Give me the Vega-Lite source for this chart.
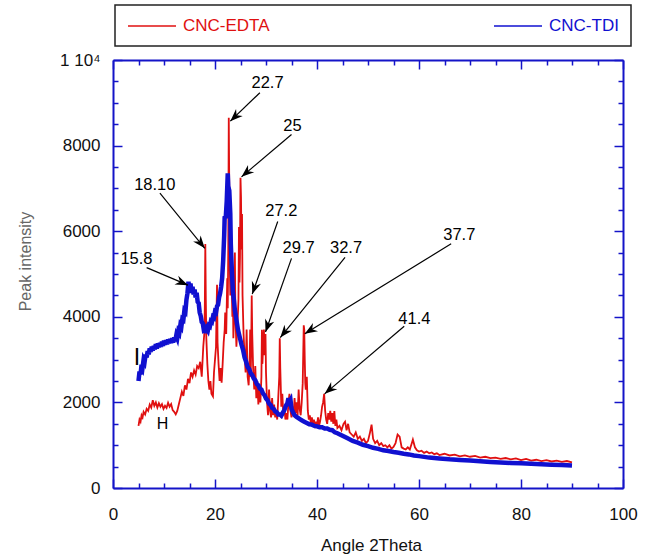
{
  "$schema": "https://vega.github.io/schema/vega-lite/v6.json",
  "width": 510,
  "height": 428,
  "autosize": {"type": "none"},
  "padding": {"left": 113, "top": 60, "right": 26, "bottom": 68},
  "background": "white",
  "config": {
    "font": "Liberation Sans",
    "view": {"stroke": null},
    "axis": {"grid": false, "domainColor": "#1414c8", "domainWidth": 2, "tickColor": "#1414c8", "tickWidth": 1.5, "labelFont": "Liberation Sans", "labelFontSize": 17, "labelColor": "#111", "titleFont": "Liberation Sans", "titleFontWeight": "normal"},
    "legend": {"strokeWidth": 1.5}
  },
  "datasets": {
    "edta": [
      {"series":"CNC-EDTA","x":5.0,"y":1450},{"series":"CNC-EDTA","x":5.2,"y":1600},{"series":"CNC-EDTA","x":5.4,"y":1550},{"series":"CNC-EDTA","x":5.6,"y":1700},{"series":"CNC-EDTA","x":5.8,"y":1650},{"series":"CNC-EDTA","x":6.0,"y":1780},{"series":"CNC-EDTA","x":6.3,"y":1720},{"series":"CNC-EDTA","x":6.6,"y":1850},{"series":"CNC-EDTA","x":6.9,"y":1800},{"series":"CNC-EDTA","x":7.2,"y":1950},{"series":"CNC-EDTA","x":7.5,"y":1880},{"series":"CNC-EDTA","x":7.8,"y":2050},{"series":"CNC-EDTA","x":8.1,"y":1920},{"series":"CNC-EDTA","x":8.4,"y":2000},{"series":"CNC-EDTA","x":8.7,"y":1880},{"series":"CNC-EDTA","x":9.0,"y":1980},{"series":"CNC-EDTA","x":9.3,"y":1900},{"series":"CNC-EDTA","x":9.6,"y":1960},{"series":"CNC-EDTA","x":9.9,"y":1850},{"series":"CNC-EDTA","x":10.2,"y":1920},{"series":"CNC-EDTA","x":10.5,"y":1870},{"series":"CNC-EDTA","x":10.8,"y":1990},{"series":"CNC-EDTA","x":11.1,"y":1900},{"series":"CNC-EDTA","x":11.4,"y":1960},{"series":"CNC-EDTA","x":11.7,"y":1820},{"series":"CNC-EDTA","x":12.0,"y":1780},{"series":"CNC-EDTA","x":12.3,"y":1720},{"series":"CNC-EDTA","x":12.6,"y":1800},{"series":"CNC-EDTA","x":12.9,"y":1950},{"series":"CNC-EDTA","x":13.2,"y":2100},{"series":"CNC-EDTA","x":13.5,"y":2250},{"series":"CNC-EDTA","x":13.8,"y":2150},{"series":"CNC-EDTA","x":14.1,"y":2400},{"series":"CNC-EDTA","x":14.4,"y":2300},{"series":"CNC-EDTA","x":14.7,"y":2550},{"series":"CNC-EDTA","x":15.0,"y":2450},{"series":"CNC-EDTA","x":15.3,"y":2700},{"series":"CNC-EDTA","x":15.6,"y":2600},{"series":"CNC-EDTA","x":15.9,"y":2750},{"series":"CNC-EDTA","x":16.2,"y":2650},{"series":"CNC-EDTA","x":16.5,"y":2850},{"series":"CNC-EDTA","x":16.8,"y":2800},{"series":"CNC-EDTA","x":17.1,"y":2950},{"series":"CNC-EDTA","x":17.4,"y":2600},{"series":"CNC-EDTA","x":17.7,"y":3300},{"series":"CNC-EDTA","x":17.9,"y":3600},{"series":"CNC-EDTA","x":18.0,"y":4200},{"series":"CNC-EDTA","x":18.1,"y":5700},{"series":"CNC-EDTA","x":18.2,"y":4400},{"series":"CNC-EDTA","x":18.3,"y":3500},{"series":"CNC-EDTA","x":18.5,"y":2900},{"series":"CNC-EDTA","x":18.7,"y":2500},{"series":"CNC-EDTA","x":18.9,"y":2300},{"series":"CNC-EDTA","x":19.1,"y":2500},{"series":"CNC-EDTA","x":19.3,"y":2200},{"series":"CNC-EDTA","x":19.6,"y":2140},{"series":"CNC-EDTA","x":19.8,"y":2700},{"series":"CNC-EDTA","x":20.0,"y":3000},{"series":"CNC-EDTA","x":20.2,"y":3300},{"series":"CNC-EDTA","x":20.3,"y":4100},{"series":"CNC-EDTA","x":20.4,"y":4750},{"series":"CNC-EDTA","x":20.5,"y":3400},{"series":"CNC-EDTA","x":20.7,"y":2900},{"series":"CNC-EDTA","x":20.9,"y":2500},{"series":"CNC-EDTA","x":21.1,"y":2800},{"series":"CNC-EDTA","x":21.3,"y":2460},{"series":"CNC-EDTA","x":21.5,"y":2900},{"series":"CNC-EDTA","x":21.7,"y":3400},{"series":"CNC-EDTA","x":21.9,"y":3700},{"series":"CNC-EDTA","x":22.0,"y":4100},{"series":"CNC-EDTA","x":22.2,"y":3600},{"series":"CNC-EDTA","x":22.4,"y":4900},{"series":"CNC-EDTA","x":22.5,"y":4200},{"series":"CNC-EDTA","x":22.6,"y":5600},{"series":"CNC-EDTA","x":22.7,"y":8650},{"series":"CNC-EDTA","x":22.8,"y":7000},{"series":"CNC-EDTA","x":22.9,"y":5200},{"series":"CNC-EDTA","x":23.0,"y":4500},{"series":"CNC-EDTA","x":23.2,"y":5200},{"series":"CNC-EDTA","x":23.4,"y":4000},{"series":"CNC-EDTA","x":23.5,"y":4630},{"series":"CNC-EDTA","x":23.6,"y":3500},{"series":"CNC-EDTA","x":23.8,"y":4200},{"series":"CNC-EDTA","x":23.9,"y":5500},{"series":"CNC-EDTA","x":24.0,"y":4000},{"series":"CNC-EDTA","x":24.2,"y":3300},{"series":"CNC-EDTA","x":24.4,"y":3800},{"series":"CNC-EDTA","x":24.6,"y":4400},{"series":"CNC-EDTA","x":24.7,"y":6100},{"series":"CNC-EDTA","x":24.8,"y":4800},{"series":"CNC-EDTA","x":24.9,"y":5400},{"series":"CNC-EDTA","x":25.0,"y":7250},{"series":"CNC-EDTA","x":25.1,"y":6800},{"series":"CNC-EDTA","x":25.2,"y":5570},{"series":"CNC-EDTA","x":25.3,"y":6400},{"series":"CNC-EDTA","x":25.4,"y":4500},{"series":"CNC-EDTA","x":25.6,"y":3600},{"series":"CNC-EDTA","x":25.8,"y":3100},{"series":"CNC-EDTA","x":26.0,"y":2700},{"series":"CNC-EDTA","x":26.2,"y":3700},{"series":"CNC-EDTA","x":26.4,"y":2600},{"series":"CNC-EDTA","x":26.6,"y":2400},{"series":"CNC-EDTA","x":26.8,"y":3000},{"series":"CNC-EDTA","x":26.9,"y":3700},{"series":"CNC-EDTA","x":27.0,"y":2600},{"series":"CNC-EDTA","x":27.1,"y":3300},{"series":"CNC-EDTA","x":27.2,"y":4500},{"series":"CNC-EDTA","x":27.3,"y":3600},{"series":"CNC-EDTA","x":27.5,"y":2700},{"series":"CNC-EDTA","x":27.7,"y":2300},{"series":"CNC-EDTA","x":27.9,"y":2850},{"series":"CNC-EDTA","x":28.1,"y":2100},{"series":"CNC-EDTA","x":28.3,"y":2500},{"series":"CNC-EDTA","x":28.5,"y":1950},{"series":"CNC-EDTA","x":28.7,"y":2300},{"series":"CNC-EDTA","x":28.9,"y":2000},{"series":"CNC-EDTA","x":29.1,"y":2600},{"series":"CNC-EDTA","x":29.2,"y":3700},{"series":"CNC-EDTA","x":29.3,"y":2900},{"series":"CNC-EDTA","x":29.5,"y":3500},{"series":"CNC-EDTA","x":29.6,"y":3700},{"series":"CNC-EDTA","x":29.7,"y":3100},{"series":"CNC-EDTA","x":29.9,"y":3600},{"series":"CNC-EDTA","x":30.0,"y":2700},{"series":"CNC-EDTA","x":30.2,"y":2000},{"series":"CNC-EDTA","x":30.4,"y":1700},{"series":"CNC-EDTA","x":30.6,"y":2300},{"series":"CNC-EDTA","x":30.8,"y":1800},{"series":"CNC-EDTA","x":31.0,"y":1650},{"series":"CNC-EDTA","x":31.2,"y":2100},{"series":"CNC-EDTA","x":31.4,"y":1700},{"series":"CNC-EDTA","x":31.6,"y":1950},{"series":"CNC-EDTA","x":31.8,"y":1650},{"series":"CNC-EDTA","x":32.0,"y":1800},{"series":"CNC-EDTA","x":32.2,"y":1600},{"series":"CNC-EDTA","x":32.4,"y":2100},{"series":"CNC-EDTA","x":32.6,"y":2600},{"series":"CNC-EDTA","x":32.7,"y":3500},{"series":"CNC-EDTA","x":32.8,"y":2800},{"series":"CNC-EDTA","x":33.0,"y":1900},{"series":"CNC-EDTA","x":33.2,"y":2200},{"series":"CNC-EDTA","x":33.4,"y":1700},{"series":"CNC-EDTA","x":33.6,"y":1900},{"series":"CNC-EDTA","x":33.8,"y":1600},{"series":"CNC-EDTA","x":34.0,"y":1750},{"series":"CNC-EDTA","x":34.2,"y":1600},{"series":"CNC-EDTA","x":34.4,"y":2000},{"series":"CNC-EDTA","x":34.6,"y":2200},{"series":"CNC-EDTA","x":34.8,"y":1800},{"series":"CNC-EDTA","x":35.0,"y":1650},{"series":"CNC-EDTA","x":35.2,"y":1900},{"series":"CNC-EDTA","x":35.4,"y":1700},{"series":"CNC-EDTA","x":35.6,"y":2100},{"series":"CNC-EDTA","x":35.8,"y":1750},{"series":"CNC-EDTA","x":36.0,"y":2000},{"series":"CNC-EDTA","x":36.2,"y":1700},{"series":"CNC-EDTA","x":36.4,"y":2300},{"series":"CNC-EDTA","x":36.6,"y":1850},{"series":"CNC-EDTA","x":36.8,"y":1700},{"series":"CNC-EDTA","x":37.0,"y":2000},{"series":"CNC-EDTA","x":37.2,"y":2450},{"series":"CNC-EDTA","x":37.4,"y":3800},{"series":"CNC-EDTA","x":37.5,"y":3700},{"series":"CNC-EDTA","x":37.6,"y":3000},{"series":"CNC-EDTA","x":37.7,"y":2450},{"series":"CNC-EDTA","x":37.8,"y":2300},{"series":"CNC-EDTA","x":38.0,"y":2600},{"series":"CNC-EDTA","x":38.2,"y":1800},{"series":"CNC-EDTA","x":38.4,"y":1600},{"series":"CNC-EDTA","x":38.6,"y":1700},{"series":"CNC-EDTA","x":38.8,"y":1500},{"series":"CNC-EDTA","x":39.0,"y":1650},{"series":"CNC-EDTA","x":39.2,"y":1450},{"series":"CNC-EDTA","x":39.4,"y":1600},{"series":"CNC-EDTA","x":39.6,"y":1400},{"series":"CNC-EDTA","x":39.8,"y":1550},{"series":"CNC-EDTA","x":40.0,"y":1450},{"series":"CNC-EDTA","x":40.2,"y":1650},{"series":"CNC-EDTA","x":40.4,"y":1450},{"series":"CNC-EDTA","x":40.6,"y":1550},{"series":"CNC-EDTA","x":40.8,"y":1700},{"series":"CNC-EDTA","x":41.0,"y":1900},{"series":"CNC-EDTA","x":41.2,"y":2000},{"series":"CNC-EDTA","x":41.4,"y":2200},{"series":"CNC-EDTA","x":41.6,"y":1800},{"series":"CNC-EDTA","x":41.8,"y":1600},{"series":"CNC-EDTA","x":42.0,"y":1500},{"series":"CNC-EDTA","x":42.2,"y":1750},{"series":"CNC-EDTA","x":42.4,"y":1600},{"series":"CNC-EDTA","x":42.6,"y":1800},{"series":"CNC-EDTA","x":42.8,"y":1550},{"series":"CNC-EDTA","x":43.0,"y":1750},{"series":"CNC-EDTA","x":43.2,"y":1500},{"series":"CNC-EDTA","x":43.4,"y":1800},{"series":"CNC-EDTA","x":43.6,"y":1450},{"series":"CNC-EDTA","x":43.8,"y":1600},{"series":"CNC-EDTA","x":44.0,"y":1400},{"series":"CNC-EDTA","x":44.4,"y":1450},{"series":"CNC-EDTA","x":44.8,"y":1350},{"series":"CNC-EDTA","x":45.2,"y":1500},{"series":"CNC-EDTA","x":45.5,"y":1550},{"series":"CNC-EDTA","x":45.8,"y":1350},{"series":"CNC-EDTA","x":46.1,"y":1500},{"series":"CNC-EDTA","x":46.4,"y":1300},{"series":"CNC-EDTA","x":46.8,"y":1250},{"series":"CNC-EDTA","x":47.2,"y":1200},{"series":"CNC-EDTA","x":47.6,"y":1300},{"series":"CNC-EDTA","x":48.0,"y":1150},{"series":"CNC-EDTA","x":48.4,"y":1200},{"series":"CNC-EDTA","x":48.8,"y":1100},{"series":"CNC-EDTA","x":49.2,"y":1150},{"series":"CNC-EDTA","x":49.6,"y":1050},{"series":"CNC-EDTA","x":50.0,"y":1100},{"series":"CNC-EDTA","x":50.4,"y":1300},{"series":"CNC-EDTA","x":50.7,"y":1480},{"series":"CNC-EDTA","x":51.0,"y":1150},{"series":"CNC-EDTA","x":51.4,"y":1050},{"series":"CNC-EDTA","x":51.8,"y":1100},{"series":"CNC-EDTA","x":52.2,"y":1000},{"series":"CNC-EDTA","x":52.6,"y":1050},{"series":"CNC-EDTA","x":53.0,"y":980},{"series":"CNC-EDTA","x":53.4,"y":1000},{"series":"CNC-EDTA","x":53.8,"y":950},{"series":"CNC-EDTA","x":54.2,"y":1000},{"series":"CNC-EDTA","x":54.6,"y":920},{"series":"CNC-EDTA","x":55.0,"y":960},{"series":"CNC-EDTA","x":55.4,"y":1050},{"series":"CNC-EDTA","x":55.8,"y":1250},{"series":"CNC-EDTA","x":56.2,"y":1200},{"series":"CNC-EDTA","x":56.6,"y":950},{"series":"CNC-EDTA","x":57.0,"y":920},{"series":"CNC-EDTA","x":57.4,"y":900},{"series":"CNC-EDTA","x":57.8,"y":950},{"series":"CNC-EDTA","x":58.2,"y":900},{"series":"CNC-EDTA","x":58.6,"y":1050},{"series":"CNC-EDTA","x":58.8,"y":1130},{"series":"CNC-EDTA","x":59.2,"y":950},{"series":"CNC-EDTA","x":59.6,"y":880},{"series":"CNC-EDTA","x":60.0,"y":850},{"series":"CNC-EDTA","x":60.5,"y":870},{"series":"CNC-EDTA","x":61.0,"y":820},{"series":"CNC-EDTA","x":61.5,"y":850},{"series":"CNC-EDTA","x":62.0,"y":810},{"series":"CNC-EDTA","x":62.5,"y":830},{"series":"CNC-EDTA","x":63.0,"y":790},{"series":"CNC-EDTA","x":63.5,"y":810},{"series":"CNC-EDTA","x":64.0,"y":770},{"series":"CNC-EDTA","x":65,"y":800},{"series":"CNC-EDTA","x":66,"y":760},{"series":"CNC-EDTA","x":67,"y":780},{"series":"CNC-EDTA","x":68,"y":740},{"series":"CNC-EDTA","x":69,"y":760},{"series":"CNC-EDTA","x":70,"y":730},{"series":"CNC-EDTA","x":71,"y":750},{"series":"CNC-EDTA","x":72,"y":710},{"series":"CNC-EDTA","x":73,"y":730},{"series":"CNC-EDTA","x":74,"y":700},{"series":"CNC-EDTA","x":75,"y":710},{"series":"CNC-EDTA","x":76,"y":680},{"series":"CNC-EDTA","x":77,"y":700},{"series":"CNC-EDTA","x":78,"y":670},{"series":"CNC-EDTA","x":79,"y":690},{"series":"CNC-EDTA","x":80,"y":650},{"series":"CNC-EDTA","x":81,"y":680},{"series":"CNC-EDTA","x":82,"y":640},{"series":"CNC-EDTA","x":83,"y":660},{"series":"CNC-EDTA","x":84,"y":630},{"series":"CNC-EDTA","x":85,"y":650},{"series":"CNC-EDTA","x":86,"y":620},{"series":"CNC-EDTA","x":87,"y":640},{"series":"CNC-EDTA","x":88,"y":610},{"series":"CNC-EDTA","x":89,"y":630},{"series":"CNC-EDTA","x":90,"y":600}
    ],
    "tdi": [
      {"series":"CNC-TDI","x":5.0,"y":2500},{"series":"CNC-TDI","x":5.2,"y":2720},{"series":"CNC-TDI","x":5.4,"y":2650},{"series":"CNC-TDI","x":5.6,"y":2880},{"series":"CNC-TDI","x":5.8,"y":2820},{"series":"CNC-TDI","x":6.0,"y":3000},{"series":"CNC-TDI","x":6.2,"y":2950},{"series":"CNC-TDI","x":6.4,"y":3120},{"series":"CNC-TDI","x":6.6,"y":3050},{"series":"CNC-TDI","x":6.8,"y":3200},{"series":"CNC-TDI","x":7.0,"y":3120},{"series":"CNC-TDI","x":7.2,"y":3260},{"series":"CNC-TDI","x":7.4,"y":3180},{"series":"CNC-TDI","x":7.6,"y":3300},{"series":"CNC-TDI","x":7.8,"y":3210},{"series":"CNC-TDI","x":8.0,"y":3320},{"series":"CNC-TDI","x":8.2,"y":3240},{"series":"CNC-TDI","x":8.4,"y":3360},{"series":"CNC-TDI","x":8.6,"y":3260},{"series":"CNC-TDI","x":8.8,"y":3380},{"series":"CNC-TDI","x":9.0,"y":3290},{"series":"CNC-TDI","x":9.2,"y":3390},{"series":"CNC-TDI","x":9.4,"y":3300},{"series":"CNC-TDI","x":9.6,"y":3420},{"series":"CNC-TDI","x":9.8,"y":3320},{"series":"CNC-TDI","x":10.0,"y":3440},{"series":"CNC-TDI","x":10.2,"y":3350},{"series":"CNC-TDI","x":10.4,"y":3450},{"series":"CNC-TDI","x":10.6,"y":3360},{"series":"CNC-TDI","x":10.8,"y":3470},{"series":"CNC-TDI","x":11.0,"y":3380},{"series":"CNC-TDI","x":11.2,"y":3480},{"series":"CNC-TDI","x":11.4,"y":3390},{"series":"CNC-TDI","x":11.6,"y":3500},{"series":"CNC-TDI","x":11.8,"y":3400},{"series":"CNC-TDI","x":12.0,"y":3520},{"series":"CNC-TDI","x":12.2,"y":3430},{"series":"CNC-TDI","x":12.4,"y":3560},{"series":"CNC-TDI","x":12.6,"y":3500},{"series":"CNC-TDI","x":12.8,"y":3660},{"series":"CNC-TDI","x":13.0,"y":3620},{"series":"CNC-TDI","x":13.2,"y":3800},{"series":"CNC-TDI","x":13.4,"y":3760},{"series":"CNC-TDI","x":13.6,"y":3950},{"series":"CNC-TDI","x":13.8,"y":3930},{"series":"CNC-TDI","x":14.0,"y":4150},{"series":"CNC-TDI","x":14.2,"y":4120},{"series":"CNC-TDI","x":14.4,"y":4400},{"series":"CNC-TDI","x":14.6,"y":4550},{"series":"CNC-TDI","x":14.8,"y":4820},{"series":"CNC-TDI","x":15.0,"y":4620},{"series":"CNC-TDI","x":15.2,"y":4780},{"series":"CNC-TDI","x":15.4,"y":4560},{"series":"CNC-TDI","x":15.6,"y":4700},{"series":"CNC-TDI","x":15.8,"y":4520},{"series":"CNC-TDI","x":16.0,"y":4640},{"series":"CNC-TDI","x":16.2,"y":4450},{"series":"CNC-TDI","x":16.4,"y":4560},{"series":"CNC-TDI","x":16.6,"y":4350},{"series":"CNC-TDI","x":16.8,"y":4320},{"series":"CNC-TDI","x":17.0,"y":4100},{"series":"CNC-TDI","x":17.2,"y":4020},{"series":"CNC-TDI","x":17.4,"y":3880},{"series":"CNC-TDI","x":17.6,"y":3850},{"series":"CNC-TDI","x":17.8,"y":3700},{"series":"CNC-TDI","x":18.0,"y":3720},{"series":"CNC-TDI","x":18.2,"y":3620},{"series":"CNC-TDI","x":18.4,"y":3720},{"series":"CNC-TDI","x":18.6,"y":3680},{"series":"CNC-TDI","x":18.8,"y":3800},{"series":"CNC-TDI","x":19.0,"y":3780},{"series":"CNC-TDI","x":19.2,"y":3900},{"series":"CNC-TDI","x":19.4,"y":3880},{"series":"CNC-TDI","x":19.6,"y":4000},{"series":"CNC-TDI","x":19.8,"y":3980},{"series":"CNC-TDI","x":20.0,"y":4120},{"series":"CNC-TDI","x":20.2,"y":4100},{"series":"CNC-TDI","x":20.4,"y":4250},{"series":"CNC-TDI","x":20.6,"y":4280},{"series":"CNC-TDI","x":20.8,"y":4450},{"series":"CNC-TDI","x":21.0,"y":4550},{"series":"CNC-TDI","x":21.2,"y":4700},{"series":"CNC-TDI","x":21.4,"y":4900},{"series":"CNC-TDI","x":21.6,"y":5300},{"series":"CNC-TDI","x":21.8,"y":5900},{"series":"CNC-TDI","x":21.9,"y":6350},{"series":"CNC-TDI","x":22.1,"y":6300},{"series":"CNC-TDI","x":22.3,"y":6700},{"series":"CNC-TDI","x":22.5,"y":7350},{"series":"CNC-TDI","x":22.6,"y":7050},{"series":"CNC-TDI","x":22.8,"y":6950},{"series":"CNC-TDI","x":23.0,"y":6400},{"series":"CNC-TDI","x":23.1,"y":5700},{"series":"CNC-TDI","x":23.3,"y":5100},{"series":"CNC-TDI","x":23.5,"y":4600},{"series":"CNC-TDI","x":23.7,"y":4400},{"series":"CNC-TDI","x":23.9,"y":4150},{"series":"CNC-TDI","x":24.1,"y":4000},{"series":"CNC-TDI","x":24.3,"y":3850},{"series":"CNC-TDI","x":24.5,"y":3700},{"series":"CNC-TDI","x":24.7,"y":3600},{"series":"CNC-TDI","x":24.9,"y":3500},{"series":"CNC-TDI","x":25.2,"y":3350},{"series":"CNC-TDI","x":25.5,"y":3230},{"series":"CNC-TDI","x":25.8,"y":3050},{"series":"CNC-TDI","x":26.1,"y":2950},{"series":"CNC-TDI","x":26.4,"y":2830},{"series":"CNC-TDI","x":26.7,"y":2780},{"series":"CNC-TDI","x":27.0,"y":2680},{"series":"CNC-TDI","x":27.3,"y":2640},{"series":"CNC-TDI","x":27.6,"y":2560},{"series":"CNC-TDI","x":27.9,"y":2520},{"series":"CNC-TDI","x":28.2,"y":2430},{"series":"CNC-TDI","x":28.5,"y":2400},{"series":"CNC-TDI","x":28.8,"y":2320},{"series":"CNC-TDI","x":29.1,"y":2300},{"series":"CNC-TDI","x":29.4,"y":2210},{"series":"CNC-TDI","x":29.7,"y":2170},{"series":"CNC-TDI","x":30.0,"y":2090},{"series":"CNC-TDI","x":30.3,"y":2050},{"series":"CNC-TDI","x":30.6,"y":1970},{"series":"CNC-TDI","x":30.9,"y":1940},{"series":"CNC-TDI","x":31.2,"y":1870},{"series":"CNC-TDI","x":31.5,"y":1850},{"series":"CNC-TDI","x":31.8,"y":1790},{"series":"CNC-TDI","x":32.1,"y":1770},{"series":"CNC-TDI","x":32.4,"y":1720},{"series":"CNC-TDI","x":32.7,"y":1720},{"series":"CNC-TDI","x":33.0,"y":1690},{"series":"CNC-TDI","x":33.3,"y":1760},{"series":"CNC-TDI","x":33.6,"y":1820},{"series":"CNC-TDI","x":33.9,"y":1920},{"series":"CNC-TDI","x":34.2,"y":1980},{"series":"CNC-TDI","x":34.4,"y":2100},{"series":"CNC-TDI","x":34.6,"y":2020},{"series":"CNC-TDI","x":34.8,"y":2060},{"series":"CNC-TDI","x":35.0,"y":1850},{"series":"CNC-TDI","x":35.3,"y":1770},{"series":"CNC-TDI","x":35.6,"y":1700},{"series":"CNC-TDI","x":36.0,"y":1660},{"series":"CNC-TDI","x":36.5,"y":1620},{"series":"CNC-TDI","x":37.0,"y":1580},{"series":"CNC-TDI","x":37.5,"y":1550},{"series":"CNC-TDI","x":38.0,"y":1520},{"series":"CNC-TDI","x":38.5,"y":1490},{"series":"CNC-TDI","x":39.0,"y":1480},{"series":"CNC-TDI","x":39.5,"y":1450},{"series":"CNC-TDI","x":40.0,"y":1440},{"series":"CNC-TDI","x":40.5,"y":1420},{"series":"CNC-TDI","x":41.0,"y":1420},{"series":"CNC-TDI","x":41.5,"y":1390},{"series":"CNC-TDI","x":42.0,"y":1390},{"series":"CNC-TDI","x":42.5,"y":1360},{"series":"CNC-TDI","x":43.0,"y":1350},{"series":"CNC-TDI","x":43.5,"y":1300},{"series":"CNC-TDI","x":44.0,"y":1280},{"series":"CNC-TDI","x":45.0,"y":1220},{"series":"CNC-TDI","x":46.0,"y":1160},{"series":"CNC-TDI","x":47.0,"y":1100},{"series":"CNC-TDI","x":48.0,"y":1060},{"series":"CNC-TDI","x":49.0,"y":1010},{"series":"CNC-TDI","x":50.0,"y":980},{"series":"CNC-TDI","x":51.0,"y":940},{"series":"CNC-TDI","x":52.0,"y":915},{"series":"CNC-TDI","x":53.0,"y":880},{"series":"CNC-TDI","x":54.0,"y":865},{"series":"CNC-TDI","x":55.0,"y":840},{"series":"CNC-TDI","x":56.0,"y":825},{"series":"CNC-TDI","x":57.0,"y":800},{"series":"CNC-TDI","x":58.0,"y":785},{"series":"CNC-TDI","x":59.0,"y":760},{"series":"CNC-TDI","x":60.0,"y":745},{"series":"CNC-TDI","x":62.0,"y":710},{"series":"CNC-TDI","x":64.0,"y":692},{"series":"CNC-TDI","x":66.0,"y":670},{"series":"CNC-TDI","x":68.0,"y":657},{"series":"CNC-TDI","x":70.0,"y":640},{"series":"CNC-TDI","x":72.0,"y":627},{"series":"CNC-TDI","x":74.0,"y":610},{"series":"CNC-TDI","x":76.0,"y":597},{"series":"CNC-TDI","x":78.0,"y":585},{"series":"CNC-TDI","x":80.0,"y":577},{"series":"CNC-TDI","x":82.0,"y":565},{"series":"CNC-TDI","x":84.0,"y":557},{"series":"CNC-TDI","x":86.0,"y":545},{"series":"CNC-TDI","x":88.0,"y":537},{"series":"CNC-TDI","x":90.0,"y":525}
    ],
    "arrows": [
      {"label":"22.7","tx":30.3,"ty":9470,"x1":28.8,"y1":9236,"x2":23.0,"y2":8571},
      {"label":"25","tx":35.2,"ty":8454,"x1":35.0,"y1":8260,"x2":25.2,"y2":7270},
      {"label":"18.10","tx":8.2,"ty":7070,"x1":9.2,"y1":6890,"x2":18.0,"y2":5600},
      {"label":"15.8","tx":4.6,"ty":5350,"x1":6.6,"y1":5150,"x2":14.7,"y2":4740},
      {"label":"27.2","tx":33.0,"ty":6475,"x1":32.3,"y1":6225,"x2":27.3,"y2":4530},
      {"label":"29.7","tx":36.4,"ty":5600,"x1":35.0,"y1":5365,"x2":29.9,"y2":3645},
      {"label":"32.7","tx":45.7,"ty":5600,"x1":45.5,"y1":5390,"x2":32.8,"y2":3515},
      {"label":"37.7","tx":67.9,"ty":5915,"x1":66.3,"y1":5705,"x2":37.6,"y2":3605},
      {"label":"41.4","tx":59.1,"ty":3960,"x1":57.1,"y1":3780,"x2":41.5,"y2":2200}
    ],
    "marks": [
      {"label":"I","tx":4.7,"ty":3030},
      {"label":"H","tx":9.7,"ty":1500}
    ]
  },
  "layer": [
    {
      "data": {"name": "edta"},
      "mark": {"type": "line", "strokeWidth": 1.8, "interpolate": "linear"},
      "encoding": {
        "x": {"field": "x", "type": "quantitative", "scale": {"domain": [0, 100], "nice": false},
          "axis": {"orient": "bottom", "title": "Angle 2Theta", "values": [0,5,10,15,20,25,30,35,40,45,50,55,60,65,70,75,80,85,90,95,100],
            "labelExpr": "datum.value % 20 === 0 ? datum.label : ''", "labelOverlap": false, "labelFlush": false, "labelPadding": 27,
            "tickSize": {"condition": {"test": "datum.value % 20 === 0", "value": -9}, "value": -5},
            "titleFontSize": 17, "titleColor": "#111", "titleX": 258, "titleY": 57, "titleBaseline": "middle"}},
        "y": {"field": "y", "type": "quantitative", "scale": {"domain": [0, 10000], "nice": false},
          "axis": {"orient": "left", "title": "Peak intensity", "values": [0,500,1000,1500,2000,2500,3000,3500,4000,4500,5000,5500,6000,6500,7000,7500,8000,8500,9000,9500,10000],
            "labelExpr": "datum.value === 10000 ? '1 10⁴' : (datum.value % 2000 === 0 ? format(datum.value, 'd') : '')", "labelOverlap": false, "labelFlush": false, "labelPadding": 22,
            "tickSize": {"condition": {"test": "datum.value % 2000 === 0", "value": -9}, "value": -5},
            "titleFontSize": 16, "titleColor": "#666", "titleX": -88, "titleY": 201, "titleAlign": "center", "titleBaseline": "middle", "titleAngle": -90}},
        "color": {"field": "series", "type": "nominal",
          "scale": {"domain": ["CNC-EDTA", "CNC-TDI"], "range": ["#e01010", "#1010d0"]},
          "legend": {"title": null, "orient": "none", "legendX": 2, "legendY": -55, "direction": "horizontal", "columns": 2,
            "strokeColor": "#222", "fillColor": "white", "padding": 12, "columnPadding": 221,
            "symbolType": "M-1,0H5", "symbolSize": 256, "symbolStrokeWidth": 1.5, "labelOffset": 38,
            "labelFont": "Liberation Sans", "labelFontSize": 17,
            "labelColor": {"expr": "datum.label === 'CNC-EDTA' ? '#e01010' : '#1010d0'"}}}
      }
    },
    {
      "data": {"name": "tdi"},
      "mark": {"type": "line", "interpolate": "linear"},
      "encoding": {
        "x": {"field": "x", "type": "quantitative",
          "axis": {"orient": "top", "title": null, "labels": false, "values": [0,5,10,15,20,25,30,35,40,45,50,55,60,65,70,75,80,85,90,95,100],
            "tickSize": {"condition": {"test": "datum.value % 20 === 0", "value": -9}, "value": -5}}},
        "y": {"field": "y", "type": "quantitative",
          "axis": {"orient": "right", "title": null, "labels": false, "values": [0,500,1000,1500,2000,2500,3000,3500,4000,4500,5000,5500,6000,6500,7000,7500,8000,8500,9000,9500,10000],
            "tickSize": {"condition": {"test": "datum.value % 2000 === 0", "value": -9}, "value": -5}}},
        "color": {"field": "series", "type": "nominal"},
        "strokeWidth": {"value": 4.5}
      }
    },
    {
      "data": {"name": "arrows"},
      "mark": {"type": "rule", "color": "black", "strokeWidth": 1.2},
      "encoding": {
        "x": {"field": "x1", "type": "quantitative", "axis": null},
        "y": {"field": "y1", "type": "quantitative", "axis": null},
        "x2": {"field": "x2"},
        "y2": {"field": "y2"}
      }
    },
    {
      "data": {"name": "arrows"},
      "transform": [{"calculate": "atan2((datum.x2 - datum.x1) * 5.1, (datum.y2 - datum.y1) * 0.0428) * 180 / PI", "as": "ang"}],
      "mark": {"type": "point", "shape": "M0,0L-0.8,2.1L0,1.45L0.8,2.1Z", "filled": true, "color": "black", "size": 144, "opacity": 1},
      "encoding": {
        "x": {"field": "x2", "type": "quantitative", "axis": null},
        "y": {"field": "y2", "type": "quantitative", "axis": null},
        "angle": {"field": "ang", "type": "quantitative", "scale": null}
      }
    },
    {
      "data": {"name": "arrows"},
      "mark": {"type": "text", "fontSize": 16.5, "color": "black", "align": "center", "baseline": "middle", "font": "Liberation Sans"},
      "encoding": {
        "x": {"field": "tx", "type": "quantitative", "axis": null},
        "y": {"field": "ty", "type": "quantitative", "axis": null},
        "text": {"field": "label"}
      }
    },
    {
      "data": {"name": "marks"},
      "mark": {"type": "text", "color": "black", "align": "center", "baseline": "middle", "font": "Liberation Sans"},
      "encoding": {
        "x": {"field": "tx", "type": "quantitative", "axis": null},
        "y": {"field": "ty", "type": "quantitative", "axis": null},
        "text": {"field": "label"},
        "size": {"condition": {"test": "datum.label === 'I'", "value": 23}, "value": 16}
      }
    }
  ],
  "resolve": {"axis": {"x": "independent", "y": "independent"}}
}
